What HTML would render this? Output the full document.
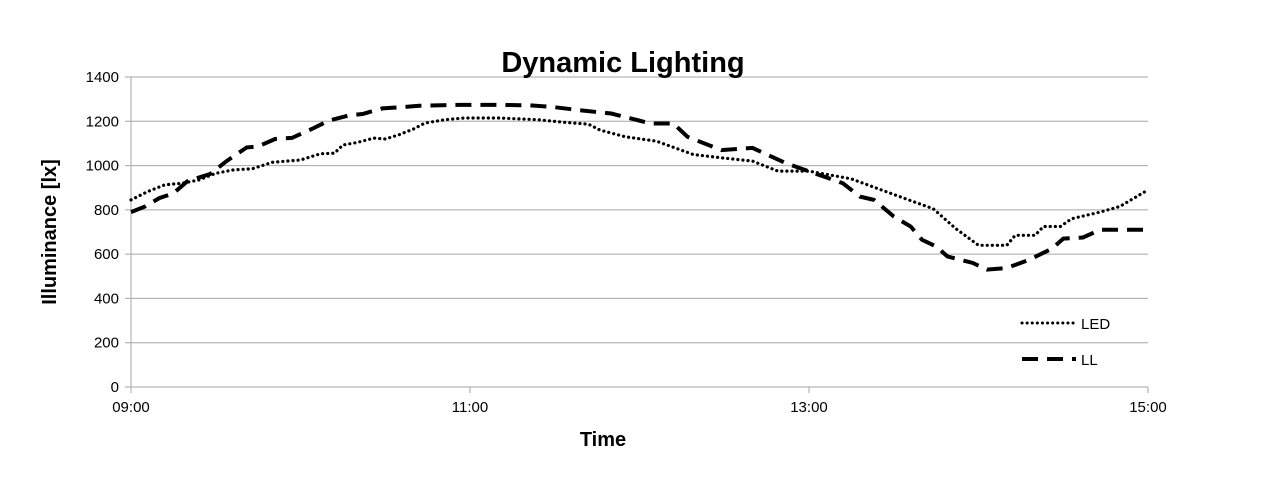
<!DOCTYPE html>
<html><head><meta charset="utf-8"><style>
body{margin:0;background:#fff;}
svg text{font-family:"Liberation Sans",sans-serif;}
</style></head><body>
<svg id="c" width="1280" height="472"></svg>
<script>
const yTicks=[0,200,400,600,800,1000,1200,1400];
const xTickMinutes=[0,120,240,360];
const xTickLabels=["09:00","11:00","13:00","15:00"];
const ledMin=[0,6,12,18,24,30,36,43,50,60,67,72,75,80,86,90,95,100,104,111,118,130,144,153,162,166,175,186,199,209,220,229,240,255,271,284,292,300,310,313,320,323,329,333,343,350,360];
const ledVal=[845,883,913,920,935,965,980,986,1015,1025,1053,1056,1093,1104,1124,1120,1140,1165,1192,1207,1215,1215,1207,1196,1187,1160,1130,1110,1050,1035,1020,975,975,940,865,805,715,640,640,685,685,725,725,760,790,815,890];
const llMin=[0,5,10,15,20,28,34,41,45,51,57,64,70,77,82,89,95,102,116,130,141,149,161,170,184,192,197,209,220,232,242,252,258,263,270,276,280,285,289,298,303,310,318,326,330,337,343,360];
const llVal=[790,815,853,875,930,962,1022,1082,1086,1120,1125,1165,1203,1226,1233,1258,1263,1270,1274,1274,1272,1265,1247,1235,1190,1190,1130,1070,1080,1010,965,920,860,845,770,725,665,635,590,560,530,537,575,625,670,675,710,710];
const X0=131,X1=1148,Y0=387,Y1=77;
const xs=m=>X0+(X1-X0)*m/360;
const ys=v=>Y0-(Y0-Y1)*v/1400;
const svg=document.getElementById('c');
const NS="http://www.w3.org/2000/svg";
function mk(t,a,p){const e=document.createElementNS(NS,t);for(const k in a)e.setAttribute(k,a[k]);(p||svg).appendChild(e);return e;}
yTicks.forEach(v=>{
  const l=mk('line',{x1:X0-6,x2:X1,y1:ys(v),y2:ys(v),stroke:'#a6a6a6','stroke-width':1});
  
  
  const t=mk('text',{x:X0-12,y:ys(v)+5,'text-anchor':'end','font-size':15});
  t.textContent=v;
  
  
});
const ax=mk('line',{x1:X0,x2:X0,y1:Y1,y2:Y0,stroke:'#a6a6a6'});


xTickMinutes.forEach((m,i)=>{
  const l=mk('line',{x1:xs(m),x2:xs(m),y1:Y0,y2:Y0+6,stroke:'#a6a6a6'});
  
  
  const t=mk('text',{x:xs(m),y:Y0+25,'text-anchor':'middle','font-size':15});
  t.textContent=xTickLabels[i];
  
  
});
function pts(ms,vs){return ms.map((m,i)=>xs(m).toFixed(1)+','+ys(vs[i]).toFixed(1)).join(' ');}
const led=mk('polyline',{points:pts(ledMin,ledVal),fill:'none',stroke:'#000','stroke-width':3.2,'stroke-dasharray':'0.1 5','stroke-linecap':'round'});


const ll=mk('polyline',{points:pts(llMin,llVal),fill:'none',stroke:'#000','stroke-width':4,'stroke-dasharray':'16 9'});


</script>
<svg width="1280" height="472" style="position:absolute;left:0;top:0">
<text x="623" y="72" text-anchor="middle" font-size="29" font-weight="bold" font-family="Liberation Sans,sans-serif">Dynamic Lighting</text>
<text transform="translate(56,232) rotate(-90)" text-anchor="middle" font-size="20" font-weight="bold" font-family="Liberation Sans,sans-serif">Illuminance [lx]</text>
<text x="603" y="446" text-anchor="middle" font-size="20" font-weight="bold" font-family="Liberation Sans,sans-serif">Time</text>
<g>
<line x1="1022" y1="323" x2="1076" y2="323" stroke="#000" stroke-width="3" stroke-dasharray="0.1 5" stroke-linecap="round"/>
<text x="1081" y="329" font-size="15" font-family="Liberation Sans,sans-serif">LED</text>
<line x1="1022" y1="359" x2="1076" y2="359" stroke="#000" stroke-width="4" stroke-dasharray="16 9"/>
<text x="1081" y="365" font-size="15" font-family="Liberation Sans,sans-serif">LL</text>
</g>
</svg>
</body></html>
